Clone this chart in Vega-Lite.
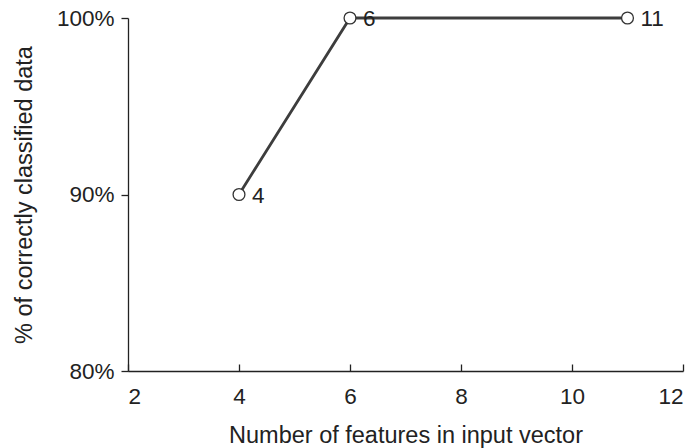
{
  "$schema": "https://vega.github.io/schema/vega-lite/v6.json",
  "autosize": "none",
  "width": 555,
  "height": 353,
  "padding": {"left": 128, "top": 18, "right": 15, "bottom": 77},
  "background": "white",
  "config": {
    "view": {"stroke": null},
    "font": "Liberation Sans",
    "axis": {
      "grid": false,
      "domainColor": "#222",
      "tickColor": "#222",
      "labelColor": "#222",
      "titleColor": "#222",
      "labelFont": "Liberation Sans",
      "titleFont": "Liberation Sans",
      "labelFontSize": 22.5,
      "titleFontSize": 23.5,
      "titleFontWeight": "normal",
      "domainWidth": 1.3,
      "tickWidth": 1.3
    }
  },
  "data": {
    "values": [
      {"features": 4, "accuracy": 0.9, "label": "4"},
      {"features": 6, "accuracy": 1.0, "label": "6"},
      {"features": 11, "accuracy": 1.0, "label": "11"}
    ]
  },
  "encoding": {
    "x": {
      "field": "features",
      "type": "quantitative",
      "scale": {"domain": [2, 12], "nice": false, "zero": false},
      "axis": {
        "values": [2, 4, 6, 8, 10, 12],
        "title": "Number of features in input vector",
        "tickSize": -7,
        "labelPadding": 21,
        "titlePadding": 16
      }
    },
    "y": {
      "field": "accuracy",
      "type": "quantitative",
      "scale": {"domain": [0.8, 1.0], "nice": false, "zero": false},
      "axis": {
        "values": [0.8, 0.9, 1.0],
        "format": ".0%",
        "title": "% of correctly classified data",
        "tickSize": 7,
        "labelPadding": 7,
        "titlePadding": 20
      }
    }
  },
  "layer": [
    {
      "mark": {"type": "line", "color": "#3d3d3d", "strokeWidth": 2.8}
    },
    {
      "mark": {"type": "point", "shape": "circle", "filled": true, "fill": "white", "stroke": "#333", "strokeWidth": 1.3, "size": 140, "opacity": 1}
    },
    {
      "mark": {"type": "text", "align": "left", "baseline": "middle", "dx": 13, "dy": 1, "fontSize": 22.5, "color": "#222"},
      "encoding": {"text": {"field": "label"}}
    }
  ]
}
